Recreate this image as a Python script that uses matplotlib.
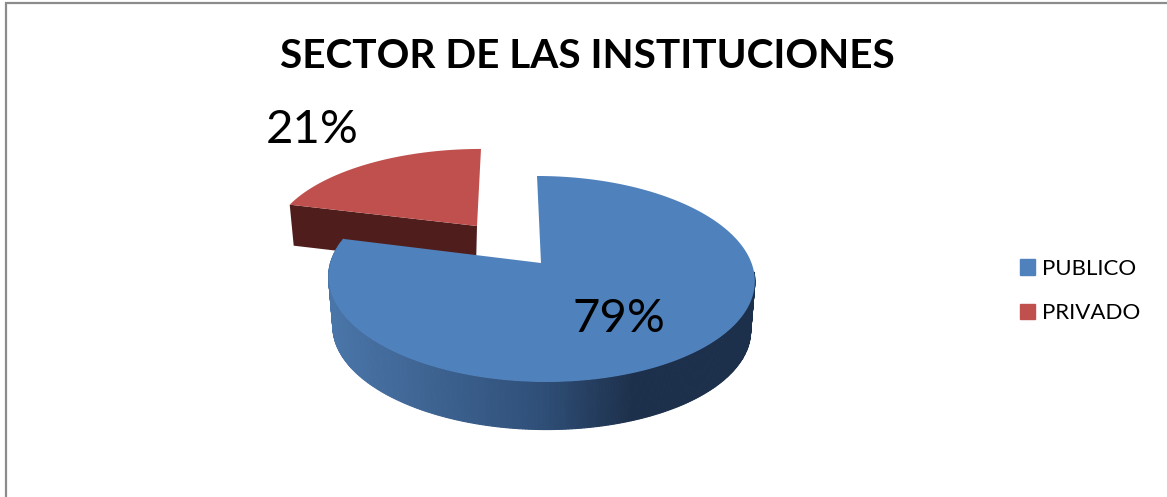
import numpy as np
import matplotlib
matplotlib.use('Agg')
import matplotlib.pyplot as plt
from matplotlib.colors import LinearSegmentedColormap
from matplotlib.patches import Patch

categories = ['PUBLICO', 'PRIVADO']
values = [79, 21]
labels = ['79%', '21%']
title = 'SECTOR DE LAS INSTITUCIONES'

BLUE = '#4f81bd'
RED = '#c0504d'
RED_DARK = '#4f1e1c'
side_cmap = LinearSegmentedColormap.from_list(
    'side', [(0, '#4a75a8'), (0.5, '#2f4f78'), (0.72, '#1d304b'), (1, '#1d304b')])

plt.rcParams['font.family'] = ['Lato', 'DejaVu Sans']

# perspective of the tilted pie, in pixels of the picture
K = 0.155


def rim(cx, cy, a, b, theta, lean=0):
    # point of the rim for angles in degrees, the far side shrinks
    t = np.radians(theta)
    w = 1 + K * np.sin(t)
    return cx + (a * np.cos(t) + lean * np.sin(t)) / w, cy - b * np.sin(t) / w


def wedge(cx, cy, a, b, start, stop, lean=0):
    th = np.linspace(start, stop, 200)
    x, y = rim(cx, cy, a, b, th, lean)
    return np.r_[cx, x], np.r_[cy, y]


fig = plt.figure(figsize=(11.67, 4.97), dpi=100, facecolor='white')
ax = fig.add_axes([0, 0, 1, 1])
ax.set_xlim(0, 1167)
ax.set_ylim(497, 0)
ax.axis('off')

# outer frame, open to the right and the bottom
ax.plot([5.5, 5.5, 1167], [497, 2.5, 2.5], color='#8c8c8c', lw=1.6, solid_joinstyle='miter')

# both slices run clockwise from 12 o'clock
sweep = [v / sum(values) * 360 for v in values]
blue_stop = 90 - sweep[0]
red_stop = blue_stop - sweep[1]

# red slice, pulled out behind the blue one
rx, ry, ra, rb = 477, 226, 202, 89
ex, ey = rim(rx, ry, ra, rb, blue_stop, 4.6)
fx = [rx, ex, ex + 4, rx - 1]
fy = [ry, ey, ey + 41, ry + 41]
ax.fill(fx, fy, color=RED_DARK, lw=0, zorder=2)
x, y = wedge(rx, ry, ra, rb, red_stop, blue_stop, 4.6)
ax.fill(x, y, color=RED, lw=0, zorder=3)

# blue slice, side strips first and the top over them
bx, by, ba, bb = 541, 263, 210.5, 100.5
dy, shrink = 50, 0.98
edges = np.linspace(blue_stop, -5, 260)
xleft = 333
xright = 752
for t0, t1 in zip(edges[:-1], edges[1:]):
    x0, y0 = rim(bx, by, ba, bb, np.array([t0, t1]), -4.6)
    x1, y1 = rim(bx, by + dy, ba * shrink, bb * shrink, np.array([t1, t0]), -4.6)
    pos = np.clip(((x0[0] + x0[1]) / 2 - xleft) / (xright - xleft), 0, 1)
    c = side_cmap(pos)
    ax.fill(np.r_[x0, x1], np.r_[y0, y1], color=c, lw=0.8, ec=c, zorder=4)
x, y = wedge(bx, by, ba, bb, blue_stop, 90, -4.6)
ax.fill(x, y, color=BLUE, lw=0, zorder=5)

ax.text(619, 319, labels[0], fontsize=34, ha='center', va='center', color='black', zorder=6)
ax.text(312, 130, labels[1], fontsize=34, ha='center', va='center', color='black', zorder=6)
ax.text(587, 57, title, fontsize=29.2, fontweight='bold', ha='center', va='center', color='black')

handles = [Patch(color=BLUE), Patch(color=RED)]
ax.legend(handles, categories, loc='center left', bbox_to_anchor=(1011 / 1167, 1 - 291 / 497),
          frameon=False, fontsize=16, handlelength=0.68, handleheight=0.68,
          handletextpad=0.3, labelspacing=1.1, borderpad=0, borderaxespad=0.4)

fig.savefig('out.png', dpi=100)
